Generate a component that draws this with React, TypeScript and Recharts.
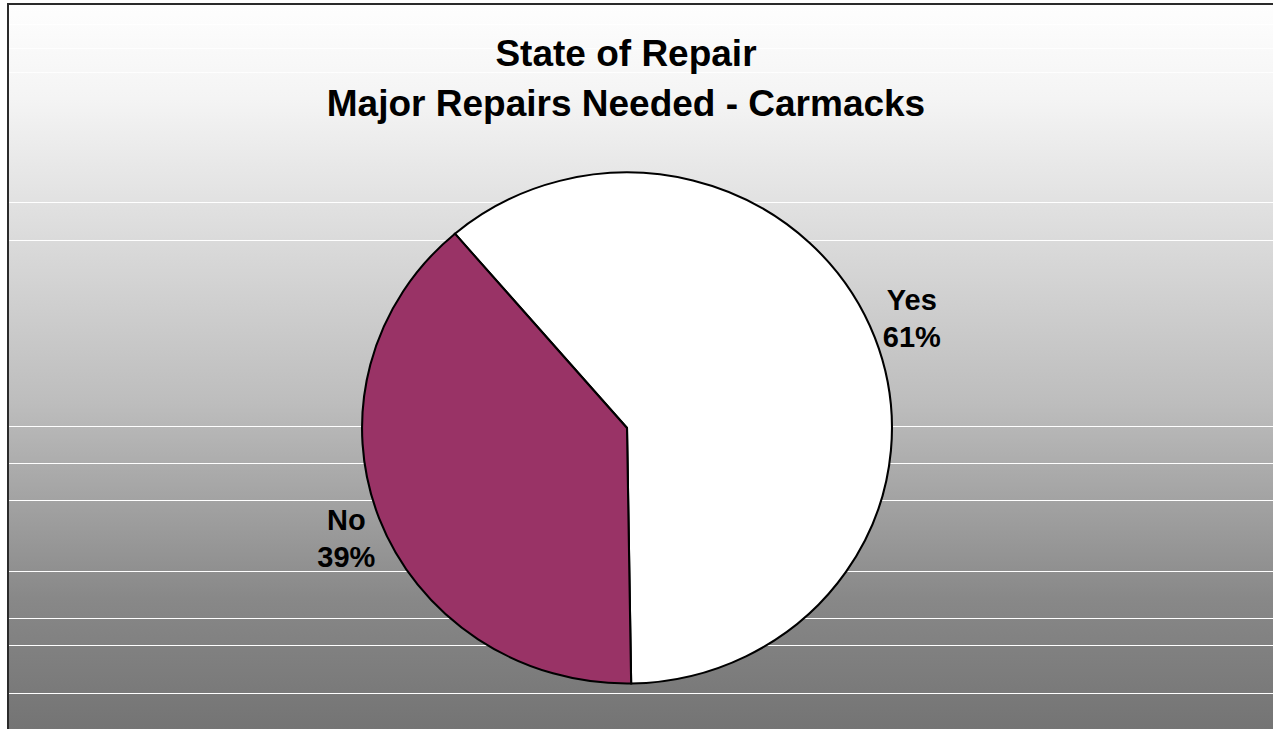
import { Cell, Pie, PieChart } from "recharts";

const TITLE_LINES = ["State of Repair", "Major Repairs Needed - Carmacks"];
const CATEGORIES = ["Yes", "No"];
const SHARES = [61, 39];
const SLICE_COLORS = ["#ffffff", "#993366"];

const FONT = '"Liberation Sans", Arial, Helvetica, sans-serif';
// the original pie is a touch wider than tall
const SX = 1.037;
const BAND_LINES = [202, 240, 426, 463, 500, 571, 618, 645, 693];
const FAINT_LINES = [24, 48, 72];

const data = CATEGORIES.map((name, i) => ({ name, value: SHARES[i] }));

const RAD = Math.PI / 180;

function SliceLabel(props: any) {
  const { cx, cy, midAngle, outerRadius, name, value } = props;
  const cos = Math.cos(-midAngle * RAD);
  const sin = Math.sin(-midAngle * RAD);
  // labels sit a bit further out vertically than horizontally
  const x = cx + 2 + (outerRadius + 36) * cos;
  const y = cy + (outerRadius + 55) * sin;
  return (
    <g transform={`translate(${x},${y}) scale(${1 / SX},1)`}>
      <text
        textAnchor="middle"
        fontFamily={FONT}
        fontWeight="bold"
        fontSize={29}
        fill="#000"
      >
        <tspan x={0} y={-8}>{name}</tspan>
        <tspan x={0} y={29}>{`${value}%`}</tspan>
      </text>
    </g>
  );
}

export default function App() {
  return (
    <div
      style={{
        position: "absolute",
        left: 7,
        top: 3,
        width: 1266,
        height: 726,
        boxSizing: "border-box",
        borderTop: "2px solid #2b2b2b",
        borderLeft: "2px solid #2b2b2b",
        overflow: "hidden",
        background:
          "linear-gradient(to bottom, #fefefe 0%, #f4f4f4 13%, #bdbdbd 55%, #888888 82%, #747474 100%)",
        fontFamily: FONT,
      }}
    >
      {FAINT_LINES.map((y) => (
        <div
          key={`f${y}`}
          style={{ position: "absolute", left: 0, right: 0, top: y - 5, height: 1, background: "rgba(255,255,255,0.8)" }}
        />
      ))}
      {BAND_LINES.map((y) => (
        <div
          key={y}
          style={{ position: "absolute", left: 0, right: 0, top: y - 5, height: 1, background: "#ffffff" }}
        />
      ))}
      <svg
        width={1264}
        height={140}
        style={{ position: "absolute", left: 0, top: 0 }}
      >
        {TITLE_LINES.map((t, i) => (
          <text
            key={t}
            x={617}
            y={61 + i * 50}
            textAnchor="middle"
            fontFamily={FONT}
            fontWeight="bold"
            fontSize={37}
            fill="#000"
          >
            {t}
          </text>
        ))}
      </svg>
      <div
        style={{
          position: "absolute",
          left: 627 - 9 - 350,
          top: 428 - 5 - 300,
          width: 700,
          height: 600,
          transform: `scale(${SX},1)`,
          transformOrigin: "350px 300px",
        }}
      >
        <PieChart
          width={700}
          height={600}
          margin={{ top: 0, right: 0, bottom: 0, left: 0 }}
          style={{ overflow: "visible" }}
        >
          <Pie
            data={data}
            dataKey="value"
            nameKey="name"
            cx={350}
            cy={300}
            outerRadius={255.5}
            startAngle={130.5}
            endAngle={-229.5}
            stroke="#000000"
            strokeWidth={2}
            label={SliceLabel}
            labelLine={false}
            isAnimationActive={false}
          >
            {data.map((d, i) => (
              <Cell key={d.name} fill={SLICE_COLORS[i]} />
            ))}
          </Pie>
        </PieChart>
      </div>
    </div>
  );
}
